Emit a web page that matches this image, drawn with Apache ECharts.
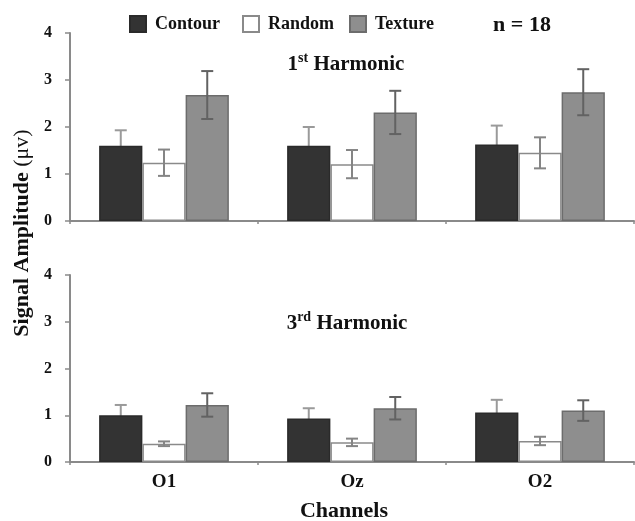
<!DOCTYPE html>
<html>
<head>
<meta charset="utf-8">
<script src="https://cdn.jsdelivr.net/npm/echarts@6/dist/echarts.min.js"></script>
<style>html,body{margin:0;padding:0;background:#fff}#c{width:635px;height:521px}</style>
</head>
<body>
<div id="c"></div>
<script>
// ---- data ----
var channels = ['O1', 'Oz', 'O2'];
var yTicks = [0, 1, 2, 3, 4];
// 1st harmonic
var h1Contour = [1.60, 1.60, 1.63];
var h1ContourErr = [0.33, 0.40, 0.40];
var h1Random = [1.24, 1.21, 1.45];
var h1RandomErr = [0.28, 0.30, 0.33];
var h1Texture = [2.68, 2.31, 2.74];
var h1TextureErr = [0.51, 0.46, 0.49];
// 3rd harmonic
var h3Contour = [1.00, 0.93, 1.06];
var h3ContourErr = [0.22, 0.22, 0.27];
var h3Random = [0.39, 0.42, 0.45];
var h3RandomErr = [0.05, 0.08, 0.09];
var h3Texture = [1.22, 1.15, 1.10];
var h3TextureErr = [0.25, 0.24, 0.22];

var FONT = "'Liberation Serif','Times New Roman',serif";
var GAP = 0.31;
var colors = {
  Contour: {fill: '#333333', border: '#2a2a2a', err: '#9a9a9a'},
  Random: {fill: '#ffffff', border: '#8a8a8a', err: '#858585'},
  Texture: {fill: '#8e8e8e', border: '#6c6c6c', err: '#626262'}
};

function barSeries(name, vals, gi) {
  var c = colors[name];
  return {
    type: 'bar', name: name, xAxisIndex: gi, yAxisIndex: gi,
    data: vals, barGap: 0, barCategoryGap: (GAP * 100) + '%',
    itemStyle: {color: c.fill, borderColor: c.border, borderWidth: 1.5},
    z: 2, silent: true
  };
}
function errSeries(name, slot, vals, errs, gi, z) {
  var c = colors[name];
  var d = vals.map(function (v, i) { return [i, v, errs[i]]; });
  return {
    type: 'custom', name: name + ' err', xAxisIndex: gi, yAxisIndex: gi, z: z, silent: true,
    data: d,
    renderItem: function (params, api) {
      var idx = api.value(0), v = api.value(1), e = api.value(2);
      var catW = api.size([1, 0])[0];
      var bw = catW * (1 - GAP) / 3;
      var x = api.coord([idx, v])[0] + (slot - 1) * bw;
      var yTop = api.coord([idx, v + e])[1];
      var yBot = api.coord([idx, v - e])[1];
      var cap = 6;
      var st = {stroke: c.err, lineWidth: 2};
      return {type: 'group', children: [
        {type: 'line', shape: {x1: x, y1: yTop, x2: x, y2: yBot}, style: st},
        {type: 'line', shape: {x1: x - cap, y1: yTop, x2: x + cap, y2: yTop}, style: st},
        {type: 'line', shape: {x1: x - cap, y1: yBot, x2: x + cap, y2: yBot}, style: st}
      ]};
    }
  };
}
function xAx(gi, showLabels) {
  return {
    type: 'category', gridIndex: gi, data: channels,
    axisLine: {lineStyle: {color: '#8a8a8a', width: 2}},
    axisTick: {show: true, alignWithLabel: false, length: 3, lineStyle: {color: '#8a8a8a', width: 1.5}},
    axisLabel: {show: showLabels, color: '#111', fontFamily: FONT, fontWeight: 'bold', fontSize: 19, margin: 11},
    splitLine: {show: false}
  };
}
function yAx(gi) {
  return {
    type: 'value', gridIndex: gi, min: yTicks[0], max: yTicks[yTicks.length - 1], interval: 1,
    axisLine: {show: true, lineStyle: {color: '#8a8a8a', width: 2}},
    axisTick: {show: true, length: 5, lineStyle: {color: '#8a8a8a', width: 1.5}},
    axisLabel: {color: '#111', fontFamily: FONT, fontWeight: 'bold', fontSize: 16, margin: 18},
    splitLine: {show: false}
  };
}
function legendAt(name, left) {
  return {
    data: [name], left: left, top: 15, padding: 0, itemWidth: 16, itemHeight: 16, itemGap: 0,
    icon: 'rect', selectedMode: false,
    textStyle: {fontFamily: FONT, fontWeight: 'bold', fontSize: 18, color: '#111', padding: [0, 0, 0, 4]}
  };
}

var series = [];
var sets = [
  [h1Contour, h1ContourErr, h1Random, h1RandomErr, h1Texture, h1TextureErr],
  [h3Contour, h3ContourErr, h3Random, h3RandomErr, h3Texture, h3TextureErr]
];
sets.forEach(function (s, gi) {
  series.push(barSeries('Contour', s[0], gi));
  series.push(barSeries('Random', s[2], gi));
  series.push(barSeries('Texture', s[4], gi));
  series.push(errSeries('Contour', 0, s[0], s[1], gi, 1));
  series.push(errSeries('Random', 1, s[2], s[3], gi, 3));
  series.push(errSeries('Texture', 2, s[4], s[5], gi, 3));
});

var supRich = {
  a: {fontFamily: FONT, fontWeight: 'bold', fontSize: 21, fill: '#111', lineHeight: 24, verticalAlign: 'bottom'},
  s: {fontFamily: FONT, fontWeight: 'bold', fontSize: 14, fill: '#111', lineHeight: 24, verticalAlign: 'top'}
};

var chart = echarts.init(document.getElementById('c'), null, {renderer: 'canvas'});
chart.setOption({
  backgroundColor: '#ffffff',
  animation: false,
  legend: [legendAt('Contour', 129), legendAt('Random', 242), legendAt('Texture', 349)],
  grid: [
    {left: 70, right: 1, top: 33, bottom: 300, containLabel: false},
    {left: 70, right: 1, top: 275, bottom: 59, containLabel: false}
  ],
  xAxis: [xAx(0, false), xAx(1, true)],
  yAxis: [yAx(0), yAx(1)],
  series: series,
  graphic: [
    {type: 'text', x: 522, y: 25, style: {text: 'n = 18', font: 'bold 22px ' + FONT, fill: '#111', textAlign: 'center', textVerticalAlign: 'middle'}},
    {type: 'text', x: 346, y: 63, style: {text: '{a|1}{s|st}{a| Harmonic}', rich: supRich, textAlign: 'center', textVerticalAlign: 'middle'}},
    {type: 'text', x: 347, y: 322, style: {text: '{a|3}{s|rd}{a| Harmonic}', rich: supRich, textAlign: 'center', textVerticalAlign: 'middle'}},
    {type: 'text', x: 344, y: 511, style: {text: 'Channels', font: 'bold 22px ' + FONT, fill: '#111', textAlign: 'center', textVerticalAlign: 'middle'}},
    {type: 'text', x: 22, y: 233, rotation: Math.PI / 2, style: {
      text: '{b|Signal Amplitude }{r|(μv)}', textAlign: 'center', textVerticalAlign: 'middle',
      rich: {
        b: {fontFamily: FONT, fontWeight: 'bold', fontSize: 22, fill: '#111'},
        r: {fontFamily: FONT, fontWeight: 'normal', fontSize: 22, fill: '#111'}
      }
    }}
  ]
});
</script>
</body>
</html>
